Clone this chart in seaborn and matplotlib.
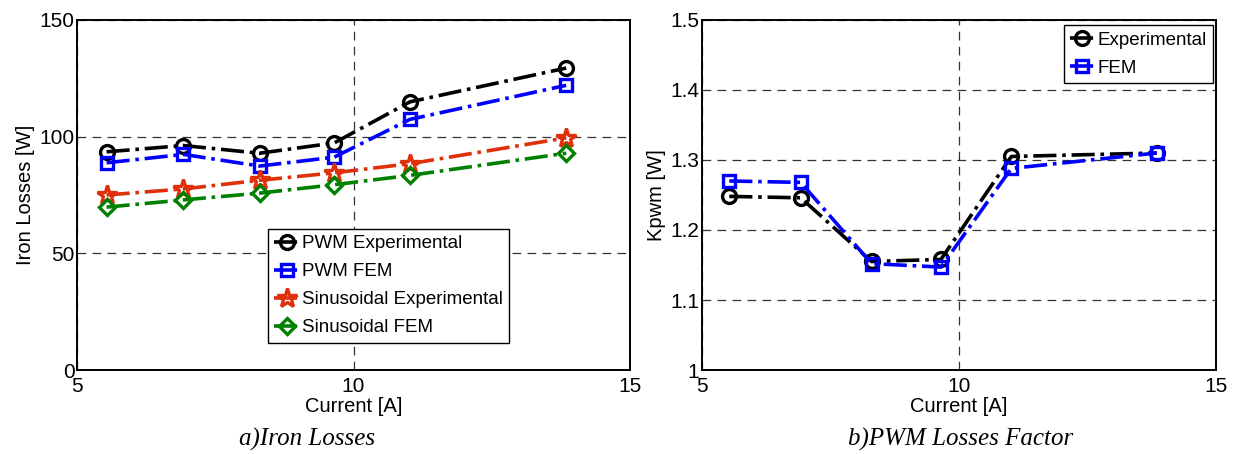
import numpy as np
import pandas as pd
import matplotlib
matplotlib.use("Agg")
import matplotlib.pyplot as plt
import seaborn as sns

sns.set_style("white")
plt.rcParams["font.family"] = ["Liberation Sans", "DejaVu Sans"]
plt.rcParams["text.color"] = "black"
plt.rcParams["axes.labelcolor"] = "black"
plt.rcParams["xtick.color"] = "black"
plt.rcParams["ytick.color"] = "black"

# ── data ──────────────────────────────────────────────────────────────
current = [5.53, 6.92, 8.30, 9.65, 11.02, 13.85]

pwm_exp = [93.5, 96.2, 92.9, 97.3, 114.9, 129.4]
pwm_fem = [88.8, 92.4, 87.4, 91.2, 107.4, 122.0]
sin_exp = [75.0, 77.6, 81.3, 84.5, 88.4, 99.5]
sin_fem = [69.8, 72.9, 75.8, 79.4, 83.4, 92.9]

kpwm_exp = [1.248, 1.246, 1.155, 1.158, 1.305, 1.310]
kpwm_fem = [1.270, 1.268, 1.152, 1.147, 1.288, 1.310]

left_series = [
    ("PWM Experimental", pwm_exp, "black", "o", 10),
    ("PWM FEM", pwm_fem, "#0000ff", "s", 9),
    ("Sinusoidal Experimental", sin_exp, "#e0300a", "*", 15),
    ("Sinusoidal FEM", sin_fem, "#008000", "D", 8.5),
]
right_series = [
    ("Experimental", kpwm_exp, "black", "o", 10),
    ("FEM", kpwm_fem, "#0000ff", "s", 9),
]

fig = plt.figure(figsize=(12.47, 4.54), dpi=100)
ax1 = fig.add_axes([0.062, 0.185, 0.443, 0.771])
ax2 = fig.add_axes([0.563, 0.185, 0.412, 0.771])


def draw(ax, series):
    for label, vals, col, mk, ms in series:
        sns.lineplot(x=current, y=vals, ax=ax, color=col, marker=mk,
                     markersize=ms, markerfacecolor="none",
                     markeredgecolor=col, markeredgewidth=2.4,
                     linestyle="-.", linewidth=2.6, label=label)


def style(ax):
    ax.grid(True, linestyle=(0, (7, 5)), color="black", linewidth=0.9, alpha=0.8)
    ax.tick_params(direction="in", labelsize=15, length=4)
    ax.tick_params(axis="y", pad=2)
    ax.tick_params(axis="x", pad=5)
    for s in ax.spines.values():
        s.set_linewidth(1.4)
        s.set_color("black")
    ax.set_xlabel("Current [A]", fontsize=14.5, labelpad=1)


leg_kw = dict(fontsize=13.5, fancybox=False, edgecolor="black", framealpha=1,
              handlelength=1.3, handletextpad=0.15, borderpad=0.35,
              labelspacing=0.58, borderaxespad=0)

draw(ax1, left_series)
ax1.set_xlim(5, 15)
ax1.set_ylim(0, 150)
ax1.set_xticks([5, 10, 15])
ax1.set_yticks([0, 50, 100, 150])
ax1.set_ylabel("Iron Losses [W]", fontsize=14.5, labelpad=3)
style(ax1)
leg1 = ax1.legend(loc="lower left", bbox_to_anchor=(0.345, 0.077), **leg_kw)
leg1.get_frame().set_linewidth(1.0)

draw(ax2, right_series)
ax2.set_xlim(5, 15)
ax2.set_ylim(1, 1.5)
ax2.set_xticks([5, 10, 15])
ax2.set_yticks([1, 1.1, 1.2, 1.3, 1.4, 1.5])
ax2.set_yticklabels(["1", "1.1", "1.2", "1.3", "1.4", "1.5"])
ax2.set_ylabel("Kpwm [W]", fontsize=14.5, labelpad=3)
style(ax2)
leg2 = ax2.legend(loc="upper right", bbox_to_anchor=(0.995, 0.985), **leg_kw)
leg2.get_frame().set_linewidth(1.0)

fig.text(0.246, 0.018, "a)Iron Losses", fontsize=18, style="italic",
         family="Liberation Serif", ha="center")
fig.text(0.77, 0.018, "b)PWM Losses Factor", fontsize=18, style="italic",
         family="Liberation Serif", ha="center")

fig.savefig("out.png", dpi=100)
